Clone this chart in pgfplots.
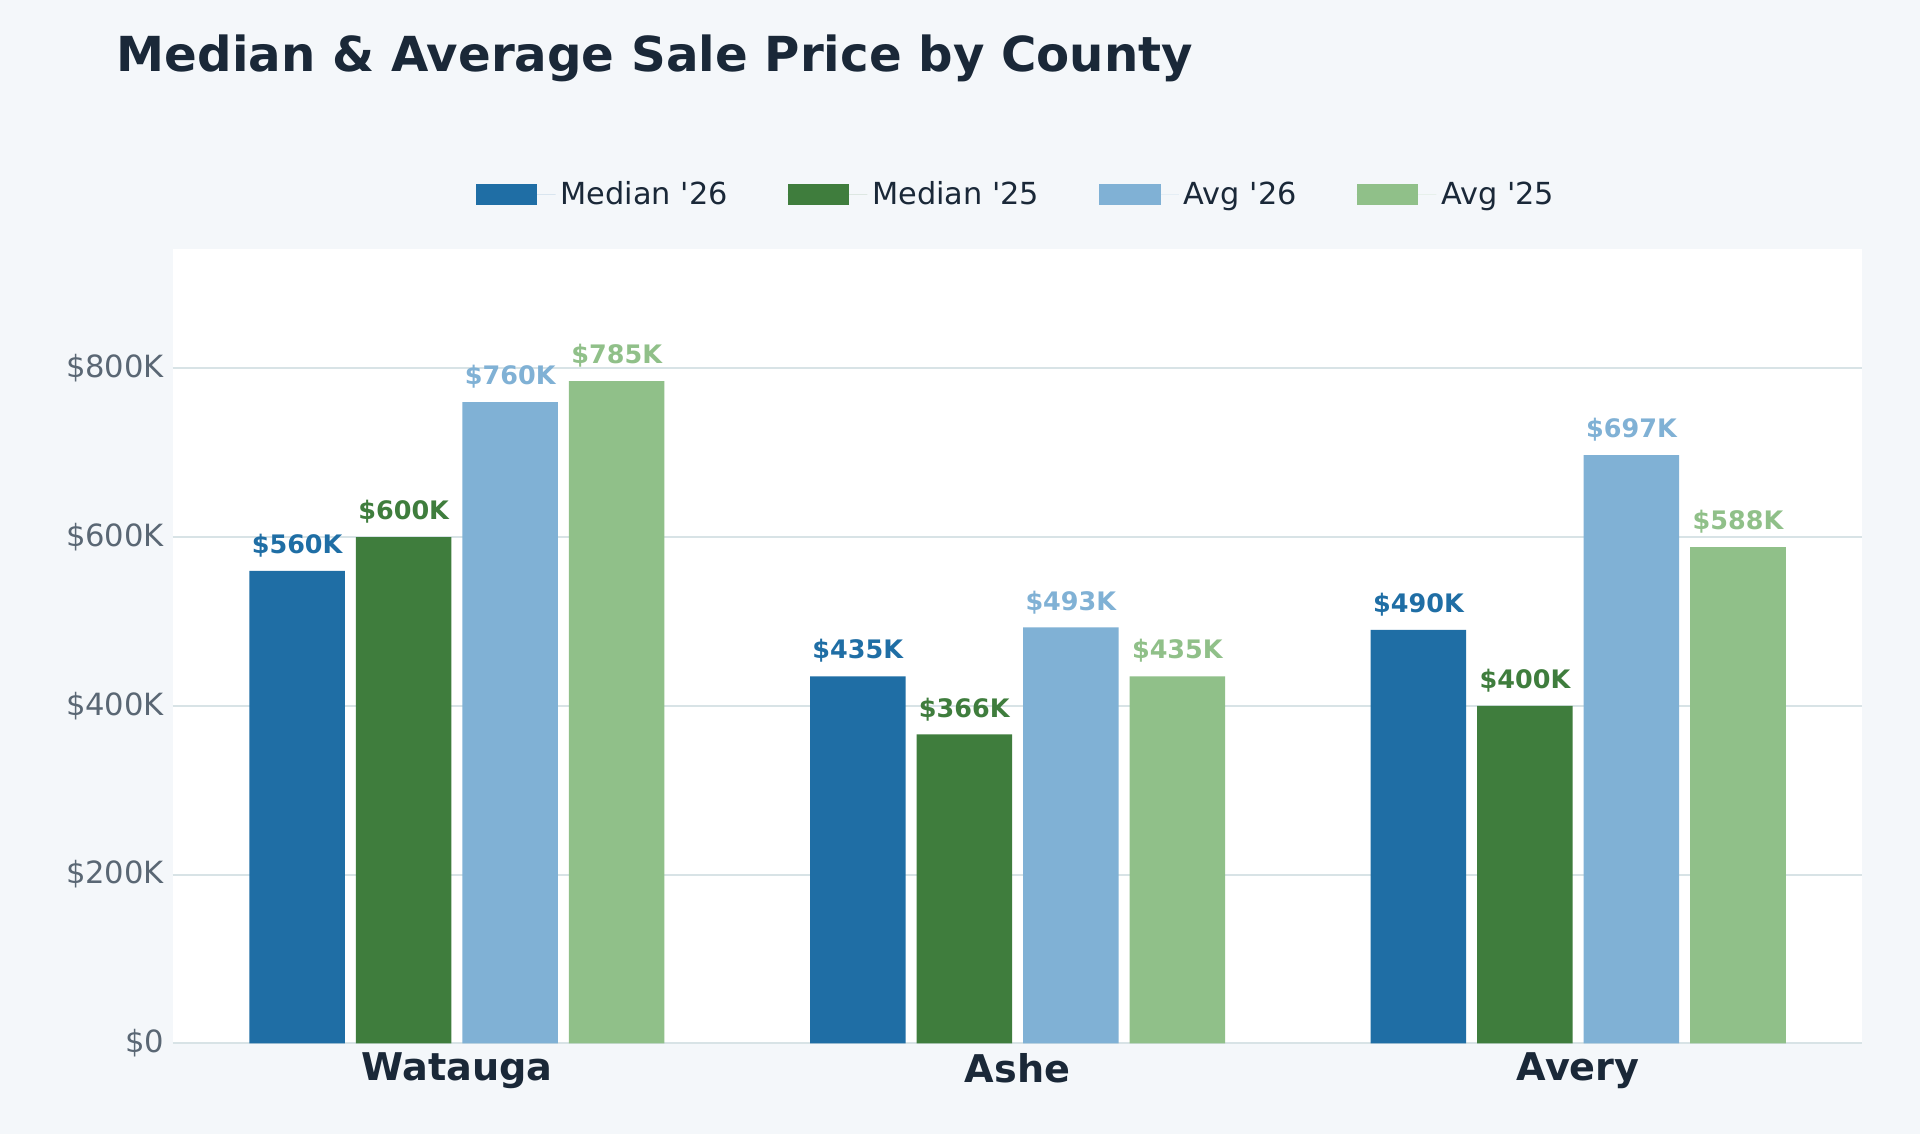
\documentclass[border=0pt]{standalone}
\usepackage{fontspec}
\setmainfont{DejaVu Sans}
\usepackage{pgfplots}
\pgfplotsset{compat=1.18}
\definecolor{cA}{HTML}{1F6EA5}
\definecolor{cB}{HTML}{3F7D3D}
\definecolor{cC}{HTML}{80B1D5}
\definecolor{cD}{HTML}{90C089}
\definecolor{txt}{HTML}{1A2838}
\definecolor{tickcol}{HTML}{5A6774}
\definecolor{gridcol}{HTML}{D8E3E6}
\definecolor{bgcol}{HTML}{F4F7FA}
\begin{document}
\begin{tikzpicture}
\fill[bgcol] (0,0) rectangle (784pt,463pt);
\node[anchor=base west, font=\fontsize{19.7pt}{24pt}\selectfont\bfseries, text=txt, inner sep=0pt] at (47.5pt,434pt) {Median \& Average Sale Price by County};
\begin{axis}[
 at={(70.5pt,37pt)}, anchor=south west,
 scale only axis, width=690pt, height=324.5pt,
 xmin=-0.507, xmax=2.507, ymin=0, ymax=942,
 axis background/.style={fill=white},
 axis line style={draw=none},
 ytick={0,200,400,600,800},
 yticklabels={\$0,\$200K,\$400K,\$600K,\$800K},
 xtick={0,1,2}, xticklabels={Watauga,Ashe,Avery},
 major tick length=0pt,
 ymajorgrids, major grid style={gridcol, line width=0.8pt},
 yticklabel style={font=\fontsize{12.5pt}{15pt}\selectfont, text=tickcol},
 xticklabel style={font=\fontsize{15.6pt}{18pt}\selectfont\bfseries, text=txt, yshift=-0.5pt},
 bar width=39pt,
 nodes near coords={\$\pgfmathprintnumber[assume math mode=true]{\pgfplotspointmeta}K},
 every node near coord/.append style={font=\fontsize{10.4pt}{12pt}\selectfont\bfseries, anchor=south, yshift=2pt},
 legend columns=4,
 legend style={at={(0.5,1.0678)}, anchor=center, draw=none, fill=none,
   font=\fontsize{12.4pt}{15pt}\selectfont, text=txt,
   /tikz/every even column/.append style={column sep=22.5pt}},
 legend image code/.code={\fill[#1] (0pt,-4.25pt) rectangle (25pt,4.25pt); \path (0pt,0pt) -- (32.5pt,0pt);},
]
\addplot[ybar, bar shift=0pt, fill=cA, draw=none, every node near coord/.append style={text=cA}] coordinates {(-0.285,560) (0.715,435) (1.715,490)};
\addlegendentry{Median \textquotesingle 26}
\addplot[ybar, bar shift=0pt, fill=cB, draw=none, every node near coord/.append style={text=cB}] coordinates {(-0.095,600) (0.905,366) (1.905,400)};
\addlegendentry{Median \textquotesingle 25}
\addplot[ybar, bar shift=0pt, fill=cC, draw=none, every node near coord/.append style={text=cC}] coordinates {(0.095,760) (1.095,493) (2.095,697)};
\addlegendentry{Avg \textquotesingle 26}
\addplot[ybar, bar shift=0pt, fill=cD, draw=none, every node near coord/.append style={text=cD}] coordinates {(0.285,785) (1.285,435) (2.285,588)};
\addlegendentry{Avg \textquotesingle 25}
\end{axis}
\pgfresetboundingbox
\useasboundingbox (0,0) rectangle (784pt,463pt);
\end{tikzpicture}
\end{document}
